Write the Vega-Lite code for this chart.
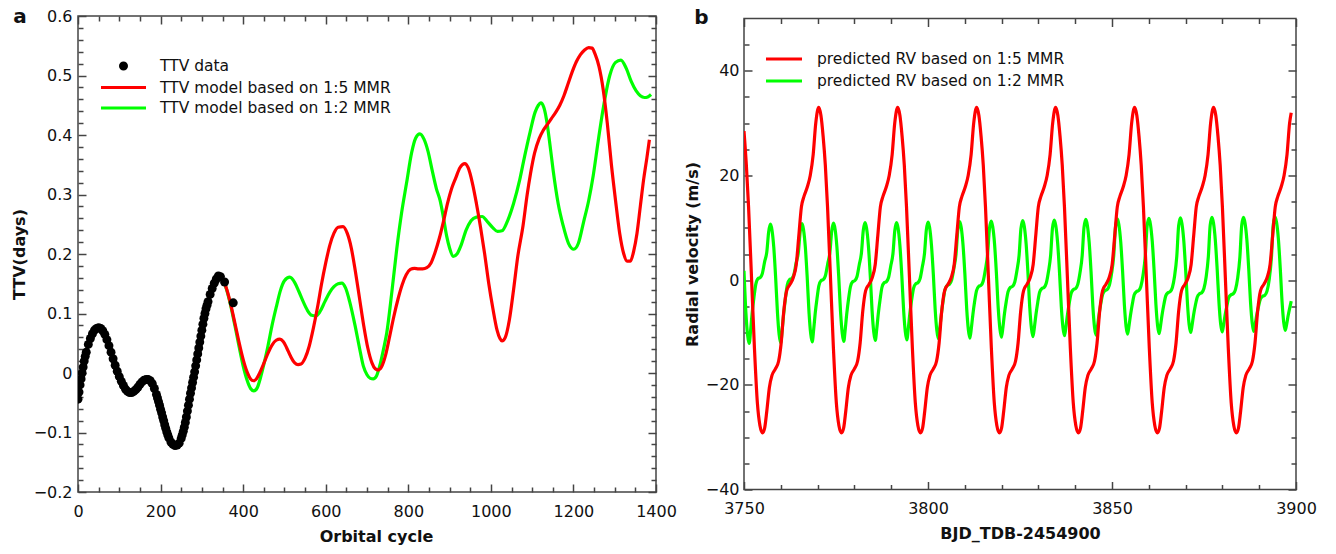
{
"$schema": "https://vega.github.io/schema/vega-lite/v6.json",
"padding": {"left": 10, "top": 6, "right": 0, "bottom": 0},
"autosize": {"type": "pad"},
"background": "white",
"bounds": "flush",
"center": true,
"spacing": 88,
"config": {
  "view": {"stroke": "#444", "strokeWidth": 1.5},
  "font": "DejaVu Sans",
  "axis": {"domain": false, "grid": false, "labelFont": "DejaVu Sans", "labelFontSize": 16, "labelColor": "#111", "titleFont": "DejaVu Sans", "titleFontSize": 16, "titleFontWeight": "bold", "titleColor": "#111", "tickColor": "#444", "tickWidth": 1.5, "labelOverlap": false, "labelFlush": false, "labelBound": false},
  "legend": {"labelFont": "DejaVu Sans", "labelFontSize": 15.5, "labelColor": "#111", "padding": 0, "labelLimit": 0}
},
"resolve": {"scale": {"x": "independent", "y": "independent", "color": "independent"}},
"datasets": {
"ttv": [
{"x":0,"y":-0.044,"s":"d"},{"x":2.5,"y":-0.032,"s":"d"},{"x":5,"y":-0.02,"s":"d"},{"x":7.5,"y":-0.01,"s":"d"},{"x":10,"y":0.0,"s":"d"},{"x":12.5,"y":0.01,"s":"d"},{"x":15,"y":0.02,"s":"d"},{"x":17.5,"y":0.028,"s":"d"},{"x":20,"y":0.035,"s":"d"},{"x":25,"y":0.048,"s":"d"},{"x":30,"y":0.058,"s":"d"},{"x":35,"y":0.066,"s":"d"},{"x":40,"y":0.072,"s":"d"},{"x":45,"y":0.075,"s":"d"},{"x":50,"y":0.076,"s":"d"},{"x":55,"y":0.075,"s":"d"},{"x":60,"y":0.071,"s":"d"},{"x":65,"y":0.065,"s":"d"},{"x":70,"y":0.056,"s":"d"},{"x":75,"y":0.046,"s":"d"},{"x":80,"y":0.035,"s":"d"},{"x":85,"y":0.024,"s":"d"},{"x":90,"y":0.013,"s":"d"},{"x":95,"y":0.003,"s":"d"},{"x":100,"y":-0.006,"s":"d"},{"x":105,"y":-0.014,"s":"d"},{"x":110,"y":-0.021,"s":"d"},{"x":115,"y":-0.027,"s":"d"},{"x":120,"y":-0.031,"s":"d"},{"x":125,"y":-0.033,"s":"d"},{"x":130,"y":-0.033,"s":"d"},{"x":135,"y":-0.031,"s":"d"},{"x":140,"y":-0.028,"s":"d"},{"x":145,"y":-0.024,"s":"d"},{"x":150,"y":-0.019,"s":"d"},{"x":155,"y":-0.015,"s":"d"},{"x":160,"y":-0.012,"s":"d"},{"x":165,"y":-0.011,"s":"d"},{"x":170,"y":-0.011,"s":"d"},{"x":175,"y":-0.013,"s":"d"},{"x":180,"y":-0.018,"s":"d"},{"x":185,"y":-0.026,"s":"d"},{"x":190,"y":-0.036,"s":"d"},{"x":192.5,"y":-0.042,"s":"d"},{"x":195,"y":-0.048,"s":"d"},{"x":197.5,"y":-0.054,"s":"d"},{"x":200,"y":-0.061,"s":"d"},{"x":202.5,"y":-0.067,"s":"d"},{"x":205,"y":-0.074,"s":"d"},{"x":207.5,"y":-0.08,"s":"d"},{"x":210,"y":-0.087,"s":"d"},{"x":212.5,"y":-0.093,"s":"d"},{"x":215,"y":-0.099,"s":"d"},{"x":217.5,"y":-0.104,"s":"d"},{"x":220,"y":-0.109,"s":"d"},{"x":225,"y":-0.116,"s":"d"},{"x":230,"y":-0.12,"s":"d"},{"x":235,"y":-0.122,"s":"d"},{"x":240,"y":-0.121,"s":"d"},{"x":245,"y":-0.118,"s":"d"},{"x":250,"y":-0.11,"s":"d"},{"x":252.5,"y":-0.104,"s":"d"},{"x":255,"y":-0.098,"s":"d"},{"x":257.5,"y":-0.091,"s":"d"},{"x":260,"y":-0.083,"s":"d"},{"x":262.5,"y":-0.074,"s":"d"},{"x":265,"y":-0.064,"s":"d"},{"x":267.5,"y":-0.054,"s":"d"},{"x":270,"y":-0.044,"s":"d"},{"x":272.5,"y":-0.034,"s":"d"},{"x":275,"y":-0.025,"s":"d"},{"x":277.5,"y":-0.016,"s":"d"},{"x":280,"y":-0.007,"s":"d"},{"x":282.5,"y":0.002,"s":"d"},{"x":285,"y":0.012,"s":"d"},{"x":287.5,"y":0.022,"s":"d"},{"x":290,"y":0.032,"s":"d"},{"x":292.5,"y":0.042,"s":"d"},{"x":295,"y":0.052,"s":"d"},{"x":297.5,"y":0.062,"s":"d"},{"x":300,"y":0.072,"s":"d"},{"x":302.5,"y":0.082,"s":"d"},{"x":305,"y":0.092,"s":"d"},{"x":307.5,"y":0.1,"s":"d"},{"x":310,"y":0.108,"s":"d"},{"x":312.5,"y":0.114,"s":"d"},{"x":315,"y":0.12,"s":"d"},{"x":320,"y":0.132,"s":"d"},{"x":325,"y":0.142,"s":"d"},{"x":330,"y":0.151,"s":"d"},{"x":335,"y":0.158,"s":"d"},{"x":340,"y":0.163,"s":"d"},{"x":345,"y":0.162,"s":"d"},{"x":355,"y":0.153,"s":"d"},{"x":376,"y":0.118,"s":"d"},
{"x":340,"y":0.163,"s":"r"},{"x":350,"y":0.158,"s":"r"},{"x":360,"y":0.141,"s":"r"},{"x":370,"y":0.115,"s":"r"},{"x":380,"y":0.084,"s":"r"},{"x":390,"y":0.052,"s":"r"},{"x":400,"y":0.023,"s":"r"},{"x":410,"y":0.001,"s":"r"},{"x":418,"y":-0.01,"s":"r"},{"x":425,"y":-0.013,"s":"r"},{"x":432,"y":-0.01,"s":"r"},{"x":440,"y":0.0,"s":"r"},{"x":450,"y":0.016,"s":"r"},{"x":460,"y":0.033,"s":"r"},{"x":470,"y":0.047,"s":"r"},{"x":480,"y":0.055,"s":"r"},{"x":489,"y":0.057,"s":"r"},{"x":497,"y":0.053,"s":"r"},{"x":505,"y":0.043,"s":"r"},{"x":515,"y":0.028,"s":"r"},{"x":525,"y":0.017,"s":"r"},{"x":533,"y":0.014,"s":"r"},{"x":540,"y":0.015,"s":"r"},{"x":550,"y":0.025,"s":"r"},{"x":560,"y":0.045,"s":"r"},{"x":570,"y":0.075,"s":"r"},{"x":580,"y":0.11,"s":"r"},{"x":590,"y":0.15,"s":"r"},{"x":600,"y":0.185,"s":"r"},{"x":610,"y":0.215,"s":"r"},{"x":620,"y":0.235,"s":"r"},{"x":630,"y":0.245,"s":"r"},{"x":642,"y":0.246,"s":"r"},{"x":652,"y":0.235,"s":"r"},{"x":662,"y":0.21,"s":"r"},{"x":672,"y":0.17,"s":"r"},{"x":682,"y":0.125,"s":"r"},{"x":692,"y":0.08,"s":"r"},{"x":702,"y":0.042,"s":"r"},{"x":712,"y":0.017,"s":"r"},{"x":720,"y":0.007,"s":"r"},{"x":727,"y":0.005,"s":"r"},{"x":735,"y":0.01,"s":"r"},{"x":745,"y":0.03,"s":"r"},{"x":755,"y":0.062,"s":"r"},{"x":765,"y":0.095,"s":"r"},{"x":775,"y":0.124,"s":"r"},{"x":785,"y":0.148,"s":"r"},{"x":795,"y":0.165,"s":"r"},{"x":805,"y":0.174,"s":"r"},{"x":815,"y":0.176,"s":"r"},{"x":825,"y":0.175,"s":"r"},{"x":835,"y":0.175,"s":"r"},{"x":845,"y":0.177,"s":"r"},{"x":855,"y":0.185,"s":"r"},{"x":865,"y":0.203,"s":"r"},{"x":875,"y":0.226,"s":"r"},{"x":885,"y":0.254,"s":"r"},{"x":895,"y":0.285,"s":"r"},{"x":905,"y":0.31,"s":"r"},{"x":915,"y":0.328,"s":"r"},{"x":925,"y":0.345,"s":"r"},{"x":937,"y":0.352,"s":"r"},{"x":945,"y":0.345,"s":"r"},{"x":955,"y":0.32,"s":"r"},{"x":965,"y":0.285,"s":"r"},{"x":975,"y":0.245,"s":"r"},{"x":985,"y":0.2,"s":"r"},{"x":995,"y":0.15,"s":"r"},{"x":1005,"y":0.108,"s":"r"},{"x":1015,"y":0.072,"s":"r"},{"x":1022,"y":0.058,"s":"r"},{"x":1027,"y":0.054,"s":"r"},{"x":1035,"y":0.06,"s":"r"},{"x":1045,"y":0.09,"s":"r"},{"x":1055,"y":0.14,"s":"r"},{"x":1065,"y":0.195,"s":"r"},{"x":1078,"y":0.248,"s":"r"},{"x":1088,"y":0.3,"s":"r"},{"x":1096,"y":0.335,"s":"r"},{"x":1106,"y":0.37,"s":"r"},{"x":1117,"y":0.394,"s":"r"},{"x":1127,"y":0.408,"s":"r"},{"x":1137,"y":0.418,"s":"r"},{"x":1147,"y":0.428,"s":"r"},{"x":1157,"y":0.438,"s":"r"},{"x":1167,"y":0.45,"s":"r"},{"x":1177,"y":0.466,"s":"r"},{"x":1187,"y":0.486,"s":"r"},{"x":1197,"y":0.506,"s":"r"},{"x":1207,"y":0.523,"s":"r"},{"x":1217,"y":0.535,"s":"r"},{"x":1227,"y":0.543,"s":"r"},{"x":1237,"y":0.547,"s":"r"},{"x":1245,"y":0.546,"s":"r"},{"x":1253,"y":0.535,"s":"r"},{"x":1262,"y":0.515,"s":"r"},{"x":1272,"y":0.477,"s":"r"},{"x":1282,"y":0.42,"s":"r"},{"x":1292,"y":0.35,"s":"r"},{"x":1302,"y":0.29,"s":"r"},{"x":1312,"y":0.235,"s":"r"},{"x":1322,"y":0.2,"s":"r"},{"x":1330,"y":0.188,"s":"r"},{"x":1338,"y":0.188,"s":"r"},{"x":1346,"y":0.205,"s":"r"},{"x":1354,"y":0.235,"s":"r"},{"x":1362,"y":0.28,"s":"r"},{"x":1370,"y":0.325,"s":"r"},{"x":1378,"y":0.362,"s":"r"},{"x":1384,"y":0.392,"s":"r"},
{"x":340,"y":0.163,"s":"g"},{"x":350,"y":0.158,"s":"g"},{"x":360,"y":0.14,"s":"g"},{"x":370,"y":0.113,"s":"g"},{"x":380,"y":0.08,"s":"g"},{"x":390,"y":0.045,"s":"g"},{"x":400,"y":0.012,"s":"g"},{"x":410,"y":-0.013,"s":"g"},{"x":418,"y":-0.026,"s":"g"},{"x":426,"y":-0.03,"s":"g"},{"x":434,"y":-0.025,"s":"g"},{"x":442,"y":-0.008,"s":"g"},{"x":450,"y":0.014,"s":"g"},{"x":460,"y":0.045,"s":"g"},{"x":470,"y":0.08,"s":"g"},{"x":481,"y":0.113,"s":"g"},{"x":490,"y":0.138,"s":"g"},{"x":500,"y":0.155,"s":"g"},{"x":513,"y":0.161,"s":"g"},{"x":525,"y":0.152,"s":"g"},{"x":535,"y":0.137,"s":"g"},{"x":546,"y":0.119,"s":"g"},{"x":556,"y":0.105,"s":"g"},{"x":566,"y":0.097,"s":"g"},{"x":576,"y":0.096,"s":"g"},{"x":586,"y":0.103,"s":"g"},{"x":598,"y":0.12,"s":"g"},{"x":610,"y":0.136,"s":"g"},{"x":620,"y":0.145,"s":"g"},{"x":630,"y":0.15,"s":"g"},{"x":639,"y":0.151,"s":"g"},{"x":648,"y":0.143,"s":"g"},{"x":658,"y":0.12,"s":"g"},{"x":671,"y":0.08,"s":"g"},{"x":681,"y":0.045,"s":"g"},{"x":691,"y":0.012,"s":"g"},{"x":700,"y":-0.003,"s":"g"},{"x":708,"y":-0.009,"s":"g"},{"x":715,"y":-0.01,"s":"g"},{"x":723,"y":-0.005,"s":"g"},{"x":732,"y":0.015,"s":"g"},{"x":740,"y":0.04,"s":"g"},{"x":748,"y":0.068,"s":"g"},{"x":760,"y":0.135,"s":"g"},{"x":772,"y":0.208,"s":"g"},{"x":784,"y":0.27,"s":"g"},{"x":796,"y":0.32,"s":"g"},{"x":808,"y":0.37,"s":"g"},{"x":818,"y":0.395,"s":"g"},{"x":828,"y":0.402,"s":"g"},{"x":838,"y":0.393,"s":"g"},{"x":848,"y":0.372,"s":"g"},{"x":858,"y":0.34,"s":"g"},{"x":868,"y":0.31,"s":"g"},{"x":877,"y":0.29,"s":"g"},{"x":885,"y":0.262,"s":"g"},{"x":893,"y":0.23,"s":"g"},{"x":900,"y":0.21,"s":"g"},{"x":909,"y":0.196,"s":"g"},{"x":918,"y":0.2,"s":"g"},{"x":928,"y":0.215,"s":"g"},{"x":940,"y":0.24,"s":"g"},{"x":952,"y":0.256,"s":"g"},{"x":965,"y":0.262,"s":"g"},{"x":979,"y":0.263,"s":"g"},{"x":992,"y":0.254,"s":"g"},{"x":1005,"y":0.244,"s":"g"},{"x":1016,"y":0.238,"s":"g"},{"x":1027,"y":0.239,"s":"g"},{"x":1040,"y":0.255,"s":"g"},{"x":1055,"y":0.285,"s":"g"},{"x":1070,"y":0.325,"s":"g"},{"x":1082,"y":0.365,"s":"g"},{"x":1095,"y":0.405,"s":"g"},{"x":1107,"y":0.438,"s":"g"},{"x":1115,"y":0.45,"s":"g"},{"x":1121,"y":0.454,"s":"g"},{"x":1128,"y":0.447,"s":"g"},{"x":1135,"y":0.425,"s":"g"},{"x":1142,"y":0.39,"s":"g"},{"x":1151,"y":0.34,"s":"g"},{"x":1163,"y":0.285,"s":"g"},{"x":1175,"y":0.248,"s":"g"},{"x":1188,"y":0.218,"s":"g"},{"x":1201,"y":0.208,"s":"g"},{"x":1212,"y":0.218,"s":"g"},{"x":1225,"y":0.255,"s":"g"},{"x":1237,"y":0.29,"s":"g"},{"x":1248,"y":0.332,"s":"g"},{"x":1260,"y":0.39,"s":"g"},{"x":1272,"y":0.444,"s":"g"},{"x":1288,"y":0.5,"s":"g"},{"x":1302,"y":0.522,"s":"g"},{"x":1315,"y":0.526,"s":"g"},{"x":1328,"y":0.512,"s":"g"},{"x":1340,"y":0.49,"s":"g"},{"x":1352,"y":0.474,"s":"g"},{"x":1362,"y":0.466,"s":"g"},{"x":1372,"y":0.463,"s":"g"},{"x":1380,"y":0.464,"s":"g"},{"x":1388,"y":0.468,"s":"g"}
],
"rv": [
{"x":3750,"y":28.5,"s":"r"},{"x":3750.64,"y":22,"s":"r"},{"x":3751.24,"y":14,"s":"r"},{"x":3752.04,"y":0.5,"s":"r"},{"x":3752.84,"y":-13,"s":"r"},{"x":3753.64,"y":-23.5,"s":"r"},{"x":3754.34,"y":-27.8,"s":"r"},{"x":3755.04,"y":-29.2,"s":"r"},
{"x":3755.6,"y":-28.3,"s":"r"},{"x":3756.2,"y":-25,"s":"r"},{"x":3756.9,"y":-20.5,"s":"r"},{"x":3757.6,"y":-18.2,"s":"r"},{"x":3758.5,"y":-17,"s":"r"},{"x":3759.4,"y":-15.5,"s":"r"},{"x":3760.1,"y":-12,"s":"r"},{"x":3760.8,"y":-6,"s":"r"},{"x":3761.6,"y":-2,"s":"r"},{"x":3762.5,"y":-0.8,"s":"r"},{"x":3763.4,"y":0.5,"s":"r"},{"x":3764.2,"y":3,"s":"r"},{"x":3764.9,"y":8.5,"s":"r"},{"x":3765.6,"y":14,"s":"r"},{"x":3766.3,"y":16,"s":"r"},{"x":3767.2,"y":17.8,"s":"r"},{"x":3768,"y":20,"s":"r"},{"x":3768.8,"y":24,"s":"r"},{"x":3769.5,"y":30,"s":"r"},{"x":3770.3,"y":33,"s":"r"},{"x":3770.9,"y":31.5,"s":"r"},{"x":3771.5,"y":27.5,"s":"r"},{"x":3772.1,"y":22,"s":"r"},{"x":3772.7,"y":14,"s":"r"},{"x":3773.5,"y":0.5,"s":"r"},{"x":3774.3,"y":-13,"s":"r"},{"x":3775.1,"y":-23.5,"s":"r"},{"x":3775.8,"y":-27.8,"s":"r"},{"x":3776.5,"y":-29.2,"s":"r"},
{"x":3777.06,"y":-28.3,"s":"r"},{"x":3777.66,"y":-25,"s":"r"},{"x":3778.36,"y":-20.5,"s":"r"},{"x":3779.06,"y":-18.2,"s":"r"},{"x":3779.96,"y":-17,"s":"r"},{"x":3780.86,"y":-15.5,"s":"r"},{"x":3781.56,"y":-12,"s":"r"},{"x":3782.26,"y":-6,"s":"r"},{"x":3783.06,"y":-2,"s":"r"},{"x":3783.96,"y":-0.8,"s":"r"},{"x":3784.86,"y":0.5,"s":"r"},{"x":3785.66,"y":3,"s":"r"},{"x":3786.36,"y":8.5,"s":"r"},{"x":3787.06,"y":14,"s":"r"},{"x":3787.76,"y":16,"s":"r"},{"x":3788.66,"y":17.8,"s":"r"},{"x":3789.46,"y":20,"s":"r"},{"x":3790.26,"y":24,"s":"r"},{"x":3790.96,"y":30,"s":"r"},{"x":3791.76,"y":33,"s":"r"},{"x":3792.36,"y":31.5,"s":"r"},{"x":3792.96,"y":27.5,"s":"r"},{"x":3793.56,"y":22,"s":"r"},{"x":3794.16,"y":14,"s":"r"},{"x":3794.96,"y":0.5,"s":"r"},{"x":3795.76,"y":-13,"s":"r"},{"x":3796.56,"y":-23.5,"s":"r"},{"x":3797.26,"y":-27.8,"s":"r"},{"x":3797.96,"y":-29.2,"s":"r"},
{"x":3798.52,"y":-28.3,"s":"r"},{"x":3799.12,"y":-25,"s":"r"},{"x":3799.82,"y":-20.5,"s":"r"},{"x":3800.52,"y":-18.2,"s":"r"},{"x":3801.42,"y":-17,"s":"r"},{"x":3802.32,"y":-15.5,"s":"r"},{"x":3803.02,"y":-12,"s":"r"},{"x":3803.72,"y":-6,"s":"r"},{"x":3804.52,"y":-2,"s":"r"},{"x":3805.42,"y":-0.8,"s":"r"},{"x":3806.32,"y":0.5,"s":"r"},{"x":3807.12,"y":3,"s":"r"},{"x":3807.82,"y":8.5,"s":"r"},{"x":3808.52,"y":14,"s":"r"},{"x":3809.22,"y":16,"s":"r"},{"x":3810.12,"y":17.8,"s":"r"},{"x":3810.92,"y":20,"s":"r"},{"x":3811.72,"y":24,"s":"r"},{"x":3812.42,"y":30,"s":"r"},{"x":3813.22,"y":33,"s":"r"},{"x":3813.82,"y":31.5,"s":"r"},{"x":3814.42,"y":27.5,"s":"r"},{"x":3815.02,"y":22,"s":"r"},{"x":3815.62,"y":14,"s":"r"},{"x":3816.42,"y":0.5,"s":"r"},{"x":3817.22,"y":-13,"s":"r"},{"x":3818.02,"y":-23.5,"s":"r"},{"x":3818.72,"y":-27.8,"s":"r"},{"x":3819.42,"y":-29.2,"s":"r"},
{"x":3819.98,"y":-28.3,"s":"r"},{"x":3820.58,"y":-25,"s":"r"},{"x":3821.28,"y":-20.5,"s":"r"},{"x":3821.98,"y":-18.2,"s":"r"},{"x":3822.88,"y":-17,"s":"r"},{"x":3823.78,"y":-15.5,"s":"r"},{"x":3824.48,"y":-12,"s":"r"},{"x":3825.18,"y":-6,"s":"r"},{"x":3825.98,"y":-2,"s":"r"},{"x":3826.88,"y":-0.8,"s":"r"},{"x":3827.78,"y":0.5,"s":"r"},{"x":3828.58,"y":3,"s":"r"},{"x":3829.28,"y":8.5,"s":"r"},{"x":3829.98,"y":14,"s":"r"},{"x":3830.68,"y":16,"s":"r"},{"x":3831.58,"y":17.8,"s":"r"},{"x":3832.38,"y":20,"s":"r"},{"x":3833.18,"y":24,"s":"r"},{"x":3833.88,"y":30,"s":"r"},{"x":3834.68,"y":33,"s":"r"},{"x":3835.28,"y":31.5,"s":"r"},{"x":3835.88,"y":27.5,"s":"r"},{"x":3836.48,"y":22,"s":"r"},{"x":3837.08,"y":14,"s":"r"},{"x":3837.88,"y":0.5,"s":"r"},{"x":3838.68,"y":-13,"s":"r"},{"x":3839.48,"y":-23.5,"s":"r"},{"x":3840.18,"y":-27.8,"s":"r"},{"x":3840.88,"y":-29.2,"s":"r"},
{"x":3841.44,"y":-28.3,"s":"r"},{"x":3842.04,"y":-25,"s":"r"},{"x":3842.74,"y":-20.5,"s":"r"},{"x":3843.44,"y":-18.2,"s":"r"},{"x":3844.34,"y":-17,"s":"r"},{"x":3845.24,"y":-15.5,"s":"r"},{"x":3845.94,"y":-12,"s":"r"},{"x":3846.64,"y":-6,"s":"r"},{"x":3847.44,"y":-2,"s":"r"},{"x":3848.34,"y":-0.8,"s":"r"},{"x":3849.24,"y":0.5,"s":"r"},{"x":3850.04,"y":3,"s":"r"},{"x":3850.74,"y":8.5,"s":"r"},{"x":3851.44,"y":14,"s":"r"},{"x":3852.14,"y":16,"s":"r"},{"x":3853.04,"y":17.8,"s":"r"},{"x":3853.84,"y":20,"s":"r"},{"x":3854.64,"y":24,"s":"r"},{"x":3855.34,"y":30,"s":"r"},{"x":3856.14,"y":33,"s":"r"},{"x":3856.74,"y":31.5,"s":"r"},{"x":3857.34,"y":27.5,"s":"r"},{"x":3857.94,"y":22,"s":"r"},{"x":3858.54,"y":14,"s":"r"},{"x":3859.34,"y":0.5,"s":"r"},{"x":3860.14,"y":-13,"s":"r"},{"x":3860.94,"y":-23.5,"s":"r"},{"x":3861.64,"y":-27.8,"s":"r"},{"x":3862.34,"y":-29.2,"s":"r"},
{"x":3862.9,"y":-28.3,"s":"r"},{"x":3863.5,"y":-25,"s":"r"},{"x":3864.2,"y":-20.5,"s":"r"},{"x":3864.9,"y":-18.2,"s":"r"},{"x":3865.8,"y":-17,"s":"r"},{"x":3866.7,"y":-15.5,"s":"r"},{"x":3867.4,"y":-12,"s":"r"},{"x":3868.1,"y":-6,"s":"r"},{"x":3868.9,"y":-2,"s":"r"},{"x":3869.8,"y":-0.8,"s":"r"},{"x":3870.7,"y":0.5,"s":"r"},{"x":3871.5,"y":3,"s":"r"},{"x":3872.2,"y":8.5,"s":"r"},{"x":3872.9,"y":14,"s":"r"},{"x":3873.6,"y":16,"s":"r"},{"x":3874.5,"y":17.8,"s":"r"},{"x":3875.3,"y":20,"s":"r"},{"x":3876.1,"y":24,"s":"r"},{"x":3876.8,"y":30,"s":"r"},{"x":3877.6,"y":33,"s":"r"},{"x":3878.2,"y":31.5,"s":"r"},{"x":3878.8,"y":27.5,"s":"r"},{"x":3879.4,"y":22,"s":"r"},{"x":3880,"y":14,"s":"r"},{"x":3880.8,"y":0.5,"s":"r"},{"x":3881.6,"y":-13,"s":"r"},{"x":3882.4,"y":-23.5,"s":"r"},{"x":3883.1,"y":-27.8,"s":"r"},{"x":3883.8,"y":-29.2,"s":"r"},
{"x":3884.36,"y":-28.3,"s":"r"},{"x":3884.96,"y":-25,"s":"r"},{"x":3885.66,"y":-20.5,"s":"r"},{"x":3886.36,"y":-18.2,"s":"r"},{"x":3887.26,"y":-17,"s":"r"},{"x":3888.16,"y":-15.5,"s":"r"},{"x":3888.86,"y":-12,"s":"r"},{"x":3889.56,"y":-6,"s":"r"},{"x":3890.36,"y":-2,"s":"r"},{"x":3891.26,"y":-0.8,"s":"r"},{"x":3892.16,"y":0.5,"s":"r"},{"x":3892.96,"y":3,"s":"r"},{"x":3893.66,"y":8.5,"s":"r"},{"x":3894.36,"y":14,"s":"r"},{"x":3895.06,"y":16,"s":"r"},{"x":3895.96,"y":17.8,"s":"r"},{"x":3896.76,"y":20,"s":"r"},{"x":3897.56,"y":24,"s":"r"},{"x":3898.26,"y":30,"s":"r"},{"x":3898.7,"y":32,"s":"r"},
{"x":3750,"y":1.8,"s":"g"},{"x":3750.53,"y":-6.4,"s":"g"},{"x":3750.98,"y":-10.5,"s":"g"},{"x":3751.4,"y":-12.1,"s":"g"},
{"x":3751.8,"y":-9.6,"s":"g"},{"x":3752.2,"y":-6.4,"s":"g"},{"x":3752.7,"y":-3.3,"s":"g"},{"x":3753.2,"y":-0.8,"s":"g"},{"x":3753.8,"y":0.3,"s":"g"},{"x":3754.4,"y":0.5,"s":"g"},{"x":3755,"y":1.3,"s":"g"},{"x":3755.6,"y":3.5,"s":"g"},{"x":3756.2,"y":5.4,"s":"g"},{"x":3756.7,"y":9.2,"s":"g"},{"x":3757.2,"y":10.7,"s":"g"},{"x":3757.6,"y":9.6,"s":"g"},{"x":3758.1,"y":6.2,"s":"g"},{"x":3758.6,"y":0.5,"s":"g"},{"x":3759.1,"y":-6.3,"s":"g"},{"x":3759.55,"y":-10.4,"s":"g"},{"x":3759.97,"y":-12,"s":"g"},
{"x":3760.37,"y":-9.5,"s":"g"},{"x":3760.77,"y":-6.5,"s":"g"},{"x":3761.27,"y":-3.4,"s":"g"},{"x":3761.77,"y":-0.9,"s":"g"},{"x":3762.37,"y":0.1,"s":"g"},{"x":3762.97,"y":0.3,"s":"g"},{"x":3763.57,"y":1.1,"s":"g"},{"x":3764.17,"y":3.3,"s":"g"},{"x":3764.77,"y":5.3,"s":"g"},{"x":3765.27,"y":9.3,"s":"g"},{"x":3765.77,"y":10.8,"s":"g"},{"x":3766.17,"y":9.7,"s":"g"},{"x":3766.67,"y":6.3,"s":"g"},{"x":3767.17,"y":0.6,"s":"g"},{"x":3767.67,"y":-6.2,"s":"g"},{"x":3768.12,"y":-10.2,"s":"g"},{"x":3768.54,"y":-11.8,"s":"g"},
{"x":3768.94,"y":-9.4,"s":"g"},{"x":3769.34,"y":-6.4,"s":"g"},{"x":3769.84,"y":-3.5,"s":"g"},{"x":3770.34,"y":-1.1,"s":"g"},{"x":3770.94,"y":-0.1,"s":"g"},{"x":3771.54,"y":0.1,"s":"g"},{"x":3772.14,"y":0.9,"s":"g"},{"x":3772.74,"y":3.1,"s":"g"},{"x":3773.34,"y":5.3,"s":"g"},{"x":3773.84,"y":9.4,"s":"g"},{"x":3774.34,"y":10.9,"s":"g"},{"x":3774.74,"y":9.8,"s":"g"},{"x":3775.24,"y":6.4,"s":"g"},{"x":3775.74,"y":0.7,"s":"g"},{"x":3776.24,"y":-6.1,"s":"g"},{"x":3776.69,"y":-10.1,"s":"g"},{"x":3777.11,"y":-11.7,"s":"g"},
{"x":3777.51,"y":-9.4,"s":"g"},{"x":3777.91,"y":-6.5,"s":"g"},{"x":3778.41,"y":-3.6,"s":"g"},{"x":3778.91,"y":-1.3,"s":"g"},{"x":3779.51,"y":-0.3,"s":"g"},{"x":3780.11,"y":-0.1,"s":"g"},{"x":3780.71,"y":0.7,"s":"g"},{"x":3781.31,"y":2.9,"s":"g"},{"x":3781.91,"y":5.2,"s":"g"},{"x":3782.41,"y":9.5,"s":"g"},{"x":3782.91,"y":11,"s":"g"},{"x":3783.31,"y":9.9,"s":"g"},{"x":3783.81,"y":6.5,"s":"g"},{"x":3784.31,"y":0.9,"s":"g"},{"x":3784.81,"y":-5.9,"s":"g"},{"x":3785.26,"y":-9.9,"s":"g"},{"x":3785.68,"y":-11.5,"s":"g"},
{"x":3786.08,"y":-9.3,"s":"g"},{"x":3786.48,"y":-6.5,"s":"g"},{"x":3786.98,"y":-3.7,"s":"g"},{"x":3787.48,"y":-1.4,"s":"g"},{"x":3788.08,"y":-0.5,"s":"g"},{"x":3788.68,"y":-0.3,"s":"g"},{"x":3789.28,"y":0.5,"s":"g"},{"x":3789.88,"y":2.7,"s":"g"},{"x":3790.48,"y":5.1,"s":"g"},{"x":3790.98,"y":9.5,"s":"g"},{"x":3791.48,"y":11,"s":"g"},{"x":3791.88,"y":9.9,"s":"g"},{"x":3792.38,"y":6.5,"s":"g"},{"x":3792.88,"y":0.9,"s":"g"},{"x":3793.38,"y":-5.8,"s":"g"},{"x":3793.83,"y":-9.8,"s":"g"},{"x":3794.25,"y":-11.4,"s":"g"},
{"x":3794.65,"y":-9.2,"s":"g"},{"x":3795.05,"y":-6.5,"s":"g"},{"x":3795.55,"y":-3.8,"s":"g"},{"x":3796.05,"y":-1.6,"s":"g"},{"x":3796.65,"y":-0.7,"s":"g"},{"x":3797.25,"y":-0.5,"s":"g"},{"x":3797.85,"y":0.3,"s":"g"},{"x":3798.45,"y":2.5,"s":"g"},{"x":3799.05,"y":5.1,"s":"g"},{"x":3799.55,"y":9.6,"s":"g"},{"x":3800.05,"y":11.1,"s":"g"},{"x":3800.45,"y":10,"s":"g"},{"x":3800.95,"y":6.6,"s":"g"},{"x":3801.45,"y":1.1,"s":"g"},{"x":3801.95,"y":-5.6,"s":"g"},{"x":3802.4,"y":-9.6,"s":"g"},{"x":3802.82,"y":-11.2,"s":"g"},
{"x":3803.22,"y":-9.1,"s":"g"},{"x":3803.62,"y":-6.5,"s":"g"},{"x":3804.12,"y":-3.9,"s":"g"},{"x":3804.62,"y":-1.8,"s":"g"},{"x":3805.22,"y":-1,"s":"g"},{"x":3805.82,"y":-0.8,"s":"g"},{"x":3806.42,"y":0,"s":"g"},{"x":3807.02,"y":2.2,"s":"g"},{"x":3807.62,"y":5,"s":"g"},{"x":3808.12,"y":9.7,"s":"g"},{"x":3808.62,"y":11.2,"s":"g"},{"x":3809.02,"y":10.1,"s":"g"},{"x":3809.52,"y":6.7,"s":"g"},{"x":3810.02,"y":1.2,"s":"g"},{"x":3810.52,"y":-5.5,"s":"g"},{"x":3810.97,"y":-9.5,"s":"g"},{"x":3811.39,"y":-11.1,"s":"g"},
{"x":3811.79,"y":-9.1,"s":"g"},{"x":3812.19,"y":-6.6,"s":"g"},{"x":3812.69,"y":-4,"s":"g"},{"x":3813.19,"y":-2,"s":"g"},{"x":3813.79,"y":-1.2,"s":"g"},{"x":3814.39,"y":-1,"s":"g"},{"x":3814.99,"y":-0.2,"s":"g"},{"x":3815.59,"y":2,"s":"g"},{"x":3816.19,"y":4.9,"s":"g"},{"x":3816.69,"y":9.8,"s":"g"},{"x":3817.19,"y":11.3,"s":"g"},{"x":3817.59,"y":10.2,"s":"g"},{"x":3818.09,"y":6.9,"s":"g"},{"x":3818.59,"y":1.3,"s":"g"},{"x":3819.09,"y":-5.4,"s":"g"},{"x":3819.54,"y":-9.3,"s":"g"},{"x":3819.96,"y":-10.9,"s":"g"},
{"x":3820.36,"y":-9,"s":"g"},{"x":3820.76,"y":-6.5,"s":"g"},{"x":3821.26,"y":-4.1,"s":"g"},{"x":3821.76,"y":-2.2,"s":"g"},{"x":3822.36,"y":-1.4,"s":"g"},{"x":3822.96,"y":-1.2,"s":"g"},{"x":3823.56,"y":-0.4,"s":"g"},{"x":3824.16,"y":1.8,"s":"g"},{"x":3824.76,"y":4.8,"s":"g"},{"x":3825.26,"y":9.9,"s":"g"},{"x":3825.76,"y":11.4,"s":"g"},{"x":3826.16,"y":10.3,"s":"g"},{"x":3826.66,"y":7,"s":"g"},{"x":3827.16,"y":1.4,"s":"g"},{"x":3827.66,"y":-5.3,"s":"g"},{"x":3828.11,"y":-9.2,"s":"g"},{"x":3828.53,"y":-10.8,"s":"g"},
{"x":3828.93,"y":-8.9,"s":"g"},{"x":3829.33,"y":-6.6,"s":"g"},{"x":3829.83,"y":-4.2,"s":"g"},{"x":3830.33,"y":-2.3,"s":"g"},{"x":3830.93,"y":-1.6,"s":"g"},{"x":3831.53,"y":-1.4,"s":"g"},{"x":3832.13,"y":-0.6,"s":"g"},{"x":3832.73,"y":1.6,"s":"g"},{"x":3833.33,"y":4.8,"s":"g"},{"x":3833.83,"y":10,"s":"g"},{"x":3834.33,"y":11.5,"s":"g"},{"x":3834.73,"y":10.4,"s":"g"},{"x":3835.23,"y":7.1,"s":"g"},{"x":3835.73,"y":1.6,"s":"g"},{"x":3836.23,"y":-5.1,"s":"g"},{"x":3836.68,"y":-9.1,"s":"g"},{"x":3837.1,"y":-10.6,"s":"g"},
{"x":3837.5,"y":-8.8,"s":"g"},{"x":3837.9,"y":-6.6,"s":"g"},{"x":3838.4,"y":-4.3,"s":"g"},{"x":3838.9,"y":-2.5,"s":"g"},{"x":3839.5,"y":-1.8,"s":"g"},{"x":3840.1,"y":-1.6,"s":"g"},{"x":3840.7,"y":-0.8,"s":"g"},{"x":3841.3,"y":1.4,"s":"g"},{"x":3841.9,"y":4.7,"s":"g"},{"x":3842.4,"y":10.1,"s":"g"},{"x":3842.9,"y":11.6,"s":"g"},{"x":3843.3,"y":10.5,"s":"g"},{"x":3843.8,"y":7.2,"s":"g"},{"x":3844.3,"y":1.7,"s":"g"},{"x":3844.8,"y":-5,"s":"g"},{"x":3845.25,"y":-9,"s":"g"},{"x":3845.67,"y":-10.5,"s":"g"},
{"x":3846.07,"y":-8.8,"s":"g"},{"x":3846.47,"y":-6.6,"s":"g"},{"x":3846.97,"y":-4.4,"s":"g"},{"x":3847.47,"y":-2.7,"s":"g"},{"x":3848.07,"y":-2,"s":"g"},{"x":3848.67,"y":-1.8,"s":"g"},{"x":3849.27,"y":-1,"s":"g"},{"x":3849.87,"y":1.2,"s":"g"},{"x":3850.47,"y":4.7,"s":"g"},{"x":3850.97,"y":10.2,"s":"g"},{"x":3851.47,"y":11.7,"s":"g"},{"x":3851.87,"y":10.6,"s":"g"},{"x":3852.37,"y":7.3,"s":"g"},{"x":3852.87,"y":1.8,"s":"g"},{"x":3853.37,"y":-4.8,"s":"g"},{"x":3853.82,"y":-8.8,"s":"g"},{"x":3854.24,"y":-10.3,"s":"g"},
{"x":3854.64,"y":-8.6,"s":"g"},{"x":3855.04,"y":-6.6,"s":"g"},{"x":3855.54,"y":-4.5,"s":"g"},{"x":3856.04,"y":-2.8,"s":"g"},{"x":3856.64,"y":-2.2,"s":"g"},{"x":3857.24,"y":-2,"s":"g"},{"x":3857.84,"y":-1.2,"s":"g"},{"x":3858.44,"y":1,"s":"g"},{"x":3859.04,"y":4.6,"s":"g"},{"x":3859.54,"y":10.3,"s":"g"},{"x":3860.04,"y":11.8,"s":"g"},{"x":3860.44,"y":10.7,"s":"g"},{"x":3860.94,"y":7.4,"s":"g"},{"x":3861.44,"y":1.9,"s":"g"},{"x":3861.94,"y":-4.7,"s":"g"},{"x":3862.39,"y":-8.7,"s":"g"},{"x":3862.81,"y":-10.2,"s":"g"},
{"x":3863.21,"y":-8.6,"s":"g"},{"x":3863.61,"y":-6.6,"s":"g"},{"x":3864.11,"y":-4.6,"s":"g"},{"x":3864.61,"y":-3,"s":"g"},{"x":3865.21,"y":-2.4,"s":"g"},{"x":3865.81,"y":-2.2,"s":"g"},{"x":3866.41,"y":-1.4,"s":"g"},{"x":3867.01,"y":0.8,"s":"g"},{"x":3867.61,"y":4.6,"s":"g"},{"x":3868.11,"y":10.4,"s":"g"},{"x":3868.61,"y":11.9,"s":"g"},{"x":3869.01,"y":10.8,"s":"g"},{"x":3869.51,"y":7.5,"s":"g"},{"x":3870.01,"y":2,"s":"g"},{"x":3870.51,"y":-4.5,"s":"g"},{"x":3870.96,"y":-8.5,"s":"g"},{"x":3871.38,"y":-10,"s":"g"},
{"x":3871.78,"y":-8.5,"s":"g"},{"x":3872.18,"y":-6.6,"s":"g"},{"x":3872.68,"y":-4.7,"s":"g"},{"x":3873.18,"y":-3.2,"s":"g"},{"x":3873.78,"y":-2.6,"s":"g"},{"x":3874.38,"y":-2.4,"s":"g"},{"x":3874.98,"y":-1.6,"s":"g"},{"x":3875.58,"y":0.6,"s":"g"},{"x":3876.18,"y":4.5,"s":"g"},{"x":3876.68,"y":10.5,"s":"g"},{"x":3877.18,"y":12,"s":"g"},{"x":3877.58,"y":10.9,"s":"g"},{"x":3878.08,"y":7.6,"s":"g"},{"x":3878.58,"y":2.1,"s":"g"},{"x":3879.08,"y":-4.4,"s":"g"},{"x":3879.53,"y":-8.4,"s":"g"},{"x":3879.95,"y":-9.9,"s":"g"},
{"x":3880.35,"y":-8.4,"s":"g"},{"x":3880.75,"y":-6.6,"s":"g"},{"x":3881.25,"y":-4.8,"s":"g"},{"x":3881.75,"y":-3.3,"s":"g"},{"x":3882.35,"y":-2.8,"s":"g"},{"x":3882.95,"y":-2.6,"s":"g"},{"x":3883.55,"y":-1.8,"s":"g"},{"x":3884.15,"y":0.4,"s":"g"},{"x":3884.75,"y":4.4,"s":"g"},{"x":3885.25,"y":10.5,"s":"g"},{"x":3885.75,"y":12,"s":"g"},{"x":3886.15,"y":10.9,"s":"g"},{"x":3886.65,"y":7.7,"s":"g"},{"x":3887.15,"y":2.2,"s":"g"},{"x":3887.65,"y":-4.3,"s":"g"},{"x":3888.1,"y":-8.2,"s":"g"},{"x":3888.52,"y":-9.8,"s":"g"},
{"x":3888.92,"y":-8.4,"s":"g"},{"x":3889.32,"y":-6.7,"s":"g"},{"x":3889.82,"y":-5,"s":"g"},{"x":3890.32,"y":-3.6,"s":"g"},{"x":3890.92,"y":-3.1,"s":"g"},{"x":3891.52,"y":-2.9,"s":"g"},{"x":3892.12,"y":-2.1,"s":"g"},{"x":3892.72,"y":0.1,"s":"g"},{"x":3893.32,"y":4.3,"s":"g"},{"x":3893.82,"y":10.6,"s":"g"},{"x":3894.32,"y":12.1,"s":"g"},{"x":3894.72,"y":11,"s":"g"},{"x":3895.22,"y":7.8,"s":"g"},{"x":3895.72,"y":2.3,"s":"g"},{"x":3896.22,"y":-4.2,"s":"g"},{"x":3896.67,"y":-8.1,"s":"g"},{"x":3897.09,"y":-9.6,"s":"g"},
{"x":3897.49,"y":-8.3,"s":"g"},{"x":3897.89,"y":-6.7,"s":"g"},{"x":3898.39,"y":-5,"s":"g"},{"x":3898.7,"y":-4,"s":"g"}
]
},
"hconcat": [
{
  "width": 578, "height": 476,
  "title": {"text": "a", "anchor": "start", "frame": "bounds", "font": "DejaVu Sans", "fontSize": 20, "fontWeight": "bold", "color": "#111", "baseline": "alphabetic", "offset": -35, "dx": 2},
  "data": {"name": "ttv"},
  "resolve": {"axis": {"x": "independent", "y": "independent"}},
  "layer": [
    {
      "transform": [{"filter": "datum.s === 'g'"}],
      "mark": {"type": "line", "strokeWidth": 3.2, "interpolate": "monotone", "clip": true},
      "encoding": {
        "x": {"field": "x", "type": "quantitative", "scale": {"domain": [0, 1400], "nice": false, "zero": false},
          "axis": {"orient": "bottom", "values": [0,200,400,600,800,1000,1200,1400], "format": "d", "offset": -8, "tickSize": 8,
            "labelPadding": 11, "title": "Orbital cycle", "titlePadding": 9, "titleX": 298}},
        "y": {"field": "y", "type": "quantitative", "scale": {"domain": [-0.2, 0.6], "nice": false, "zero": false},
          "axis": {"orient": "left", "values": [-0.2,-0.1,0,0.1,0.2,0.3,0.4,0.5,0.6], "format": ".1f", "labelExpr": "datum.value === 0 ? '0' : datum.label", "offset": -8, "tickSize": 8,
            "labelPadding": 6, "title": "TTV(days)", "titlePadding": 6}},
        "color": {"field": "s", "type": "nominal", "scale": {"domain": ["d", "r", "g"], "range": ["#000000", "#ff0000", "#00ff00"]},
          "legend": {"title": null, "orient": "none", "legendX": 36, "legendY": 40.5, "symbolSize": 256, "symbolStrokeWidth": 3, "labelOffset": 27, "rowPadding": 2.5, "labelFontSize": 15.5, "labelLimit": 0,
            "labelExpr": "datum.value === 'd' ? 'TTV data' : (datum.value === 'r' ? 'TTV model based on 1:5 MMR' : 'TTV model based on 1:2 MMR')",
            "encode": {"symbols": {"update": {
              "shape": {"signal": "datum.value === 'd' ? 'M-0.375,0A0.375,0.375,0,1,1,0.375,0A0.375,0.375,0,1,1,-0.375,0Z' : 'M-2.8125,0H2.8125'"},
              "fill": {"signal": "datum.value === 'd' ? '#000000' : 'transparent'"},
              "stroke": {"signal": "datum.value === 'd' ? '#000000' : (datum.value === 'r' ? '#ff0000' : '#00ff00')"},
              "opacity": {"value": 1}}}}}}
      }
    },
    {
      "transform": [{"filter": "datum.s === 'r'"}],
      "mark": {"type": "line", "strokeWidth": 3.2, "interpolate": "monotone", "clip": true},
      "encoding": {
        "x": {"field": "x", "type": "quantitative", "scale": {"domain": [0, 1400], "nice": false, "zero": false},
          "axis": {"orient": "bottom", "values": [50,100,150,250,300,350,450,500,550,650,700,750,850,900,950,1050,1100,1150,1250,1300,1350], "labels": false, "title": null, "offset": -5, "tickSize": 5}},
        "y": {"field": "y", "type": "quantitative", "scale": {"domain": [-0.2, 0.6], "nice": false, "zero": false},
          "axis": {"orient": "left", "values": [-0.18,-0.16,-0.14,-0.12,-0.08,-0.06,-0.04,-0.02,0.02,0.04,0.06,0.08,0.12,0.14,0.16,0.18,0.22,0.24,0.26,0.28,0.32,0.34,0.36,0.38,0.42,0.44,0.46,0.48,0.52,0.54,0.56,0.58], "labels": false, "title": null, "offset": -5, "tickSize": 5}},
        "color": {"field": "s", "type": "nominal", "scale": {"domain": ["d", "r", "g"], "range": ["#000000", "#ff0000", "#00ff00"]}, "legend": null}
      }
    },
    {
      "transform": [{"filter": "datum.s === 'd'"}],
      "mark": {"type": "point", "filled": true, "size": 80, "opacity": 1, "clip": true},
      "encoding": {
        "x": {"field": "x", "type": "quantitative", "scale": {"domain": [0, 1400], "nice": false, "zero": false},
          "axis": {"orient": "top", "values": [0,200,400,600,800,1000,1200,1400], "labels": false, "title": null, "offset": -8, "tickSize": 8}},
        "y": {"field": "y", "type": "quantitative", "scale": {"domain": [-0.2, 0.6], "nice": false, "zero": false},
          "axis": {"orient": "right", "values": [-0.2,-0.1,0,0.1,0.2,0.3,0.4,0.5,0.6], "labels": false, "title": null, "offset": -8, "tickSize": 8}},
        "color": {"field": "s", "type": "nominal", "scale": {"domain": ["d", "r", "g"], "range": ["#000000", "#ff0000", "#00ff00"]}, "legend": null}
      }
    },
    {
      "transform": [{"filter": "datum.s === 'd'"}],
      "mark": {"type": "point", "opacity": 0, "clip": true},
      "encoding": {
        "x": {"field": "x", "type": "quantitative", "scale": {"domain": [0, 1400], "nice": false, "zero": false},
          "axis": {"orient": "top", "values": [50,100,150,250,300,350,450,500,550,650,700,750,850,900,950,1050,1100,1150,1250,1300,1350], "labels": false, "title": null, "offset": -5, "tickSize": 5}},
        "y": {"field": "y", "type": "quantitative", "scale": {"domain": [-0.2, 0.6], "nice": false, "zero": false},
          "axis": {"orient": "right", "values": [-0.18,-0.16,-0.14,-0.12,-0.08,-0.06,-0.04,-0.02,0.02,0.04,0.06,0.08,0.12,0.14,0.16,0.18,0.22,0.24,0.26,0.28,0.32,0.34,0.36,0.38,0.42,0.44,0.46,0.48,0.52,0.54,0.56,0.58], "labels": false, "title": null, "offset": -5, "tickSize": 5}}
      }
    }
  ]
},
{
  "width": 552, "height": 471,
  "title": {"text": "b", "anchor": "start", "frame": "bounds", "font": "DejaVu Sans", "fontSize": 20, "fontWeight": "bold", "color": "#111", "baseline": "alphabetic", "offset": -26.5, "dx": 10},
  "data": {"name": "rv"},
  "resolve": {"axis": {"x": "independent", "y": "independent"}},
  "layer": [
    {
      "transform": [{"filter": "datum.s === 'g'"}],
      "mark": {"type": "line", "strokeWidth": 3.2, "interpolate": "monotone", "clip": true},
      "encoding": {
        "x": {"field": "x", "type": "quantitative", "scale": {"domain": [3750, 3900], "nice": false, "zero": false},
          "axis": {"orient": "bottom", "values": [3750,3800,3850,3900], "format": "d", "offset": -8, "tickSize": 8,
            "labelPadding": 11, "title": "BJD_TDB-2454900", "titlePadding": 9}},
        "y": {"field": "y", "type": "quantitative", "scale": {"domain": [-40, 50], "nice": false, "zero": false},
          "axis": {"orient": "left", "values": [-40,-20,0,20,40], "format": "d", "offset": -8, "tickSize": 8,
            "labelPadding": 5, "title": "Radial velocity (m/s)", "titlePadding": 5}},
        "color": {"field": "s", "type": "nominal", "scale": {"domain": ["r", "g"], "range": ["#ff0000", "#00ff00"]},
          "legend": {"title": null, "orient": "none", "legendX": 30.5, "legendY": 31, "symbolSize": 256, "symbolStrokeWidth": 3, "labelOffset": 23.5, "rowPadding": 4, "labelFontSize": 15.5, "labelLimit": 0,
            "labelExpr": "datum.value === 'r' ? 'predicted RV based on 1:5 MMR' : 'predicted RV based on 1:2 MMR'",
            "encode": {"symbols": {"update": {"shape": {"value": "M-2.25,0H2.25"}, "fill": {"value": "transparent"}, "opacity": {"value": 1}}}}}}
      }
    },
    {
      "transform": [{"filter": "datum.s === 'r'"}],
      "mark": {"type": "line", "strokeWidth": 3.2, "interpolate": "monotone", "clip": true},
      "encoding": {
        "x": {"field": "x", "type": "quantitative", "scale": {"domain": [3750, 3900], "nice": false, "zero": false},
          "axis": {"orient": "bottom", "values": [3760,3770,3780,3790,3810,3820,3830,3840,3860,3870,3880,3890], "labels": false, "title": null, "offset": -5, "tickSize": 5}},
        "y": {"field": "y", "type": "quantitative", "scale": {"domain": [-40, 50], "nice": false, "zero": false},
          "axis": {"orient": "left", "values": [-35,-30,-25,-15,-10,-5,5,10,15,25,30,35,45], "labels": false, "title": null, "offset": -5, "tickSize": 5}},
        "color": {"field": "s", "type": "nominal", "scale": {"domain": ["r", "g"], "range": ["#ff0000", "#00ff00"]}, "legend": null}
      }
    },
    {
      "transform": [{"filter": "datum.s === 'r'"}],
      "mark": {"type": "point", "opacity": 0, "clip": true},
      "encoding": {
        "x": {"field": "x", "type": "quantitative", "scale": {"domain": [3750, 3900], "nice": false, "zero": false},
          "axis": {"orient": "top", "values": [3750,3800,3850,3900], "labels": false, "title": null, "offset": -8, "tickSize": 8}},
        "y": {"field": "y", "type": "quantitative", "scale": {"domain": [-40, 50], "nice": false, "zero": false},
          "axis": {"orient": "right", "values": [-40,-20,0,20,40], "labels": false, "title": null, "offset": -8, "tickSize": 8}}
      }
    },
    {
      "transform": [{"filter": "datum.s === 'r'"}],
      "mark": {"type": "point", "opacity": 0, "clip": true},
      "encoding": {
        "x": {"field": "x", "type": "quantitative", "scale": {"domain": [3750, 3900], "nice": false, "zero": false},
          "axis": {"orient": "top", "values": [3760,3770,3780,3790,3810,3820,3830,3840,3860,3870,3880,3890], "labels": false, "title": null, "offset": -5, "tickSize": 5}},
        "y": {"field": "y", "type": "quantitative", "scale": {"domain": [-40, 50], "nice": false, "zero": false},
          "axis": {"orient": "right", "values": [-35,-30,-25,-15,-10,-5,5,10,15,25,30,35,45], "labels": false, "title": null, "offset": -5, "tickSize": 5}}
      }
    }
  ]
}
]
}
